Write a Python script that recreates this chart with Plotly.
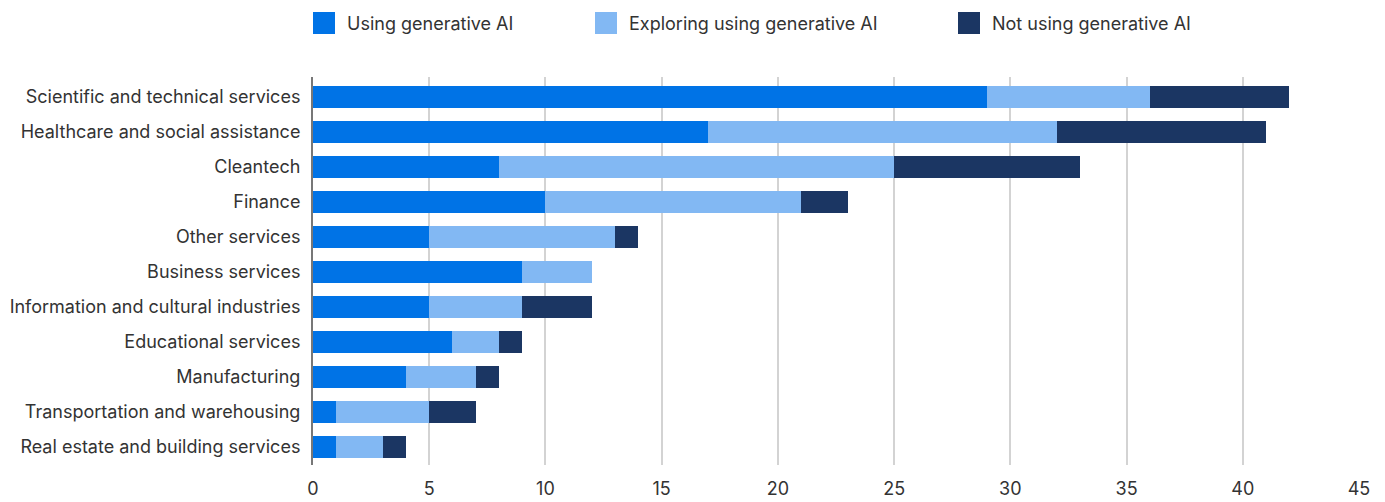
import plotly.graph_objects as go

# Industries, listed top to bottom
industries = [
    "Scientific and technical services",
    "Healthcare and social assistance",
    "Cleantech",
    "Finance",
    "Other services",
    "Business services",
    "Information and cultural industries",
    "Educational services",
    "Manufacturing",
    "Transportation and warehousing",
    "Real estate and building services",
]
using_ai = [29, 17, 8, 10, 5, 9, 5, 6, 4, 1, 1]
exploring_ai = [7, 15, 17, 11, 8, 3, 4, 2, 3, 4, 2]
not_using_ai = [6, 9, 8, 2, 1, 0, 3, 1, 1, 2, 1]

series_names = ["Using generative AI", "Exploring using generative AI", "Not using generative AI"]
series_colors = ["#0073E6", "#82B8F3", "#1B3663"]
x_ticks = [0, 5, 10, 15, 20, 25, 30, 35, 40, 45]

W, H = 1385, 502
L, R, T, B = 313, 26, 77, 37
plot_w, plot_h = W - L - R, H - T - B

FONT = "Inter, Liberation Sans, Arial, sans-serif"
FSIZE = 18
TEXT = "#333333"

fig = go.Figure()
for name, vals, col in zip(series_names, [using_ai, exploring_ai, not_using_ai], series_colors):
    fig.add_trace(go.Bar(
        y=industries, x=vals, name=name, orientation="h",
        marker=dict(color=col, line=dict(width=0)),
        showlegend=False, hoverinfo="x+y+name",
    ))

# Legend drawn as square swatches with labels above the plot
def px_x(p):
    return (p - L) / plot_w

def px_y(p):
    return (H - B - p) / plot_h

legend_x = [313, 595, 958]
shapes = []
annotations = []
for x0, name, col in zip(legend_x, series_names, series_colors):
    shapes.append(dict(type="rect", xref="paper", yref="paper",
                       x0=px_x(x0), x1=px_x(x0 + 22), y0=px_y(34), y1=px_y(12),
                       fillcolor=col, line=dict(width=0)))
    annotations.append(dict(xref="paper", yref="paper", x=px_x(x0 + 32), y=px_y(23),
                            text=name, showarrow=False, xanchor="left", yanchor="middle",
                            font=dict(family=FONT, size=FSIZE, color=TEXT)))

fig.update_layout(
    width=W, height=H,
    margin=dict(l=L, r=R, t=T, b=B, pad=0, autoexpand=False),
    barmode="stack", bargap=0.37,
    plot_bgcolor="white", paper_bgcolor="white",
    font=dict(family=FONT, size=FSIZE, color=TEXT),
    shapes=shapes, annotations=annotations,
    xaxis=dict(range=[0, 45], tickvals=x_ticks, showgrid=True, gridcolor="#D3D3D3",
               gridwidth=1.5, zeroline=False, showline=False, ticks="",
               automargin=False, ticklabelstandoff=11, tickfont=dict(size=FSIZE, color=TEXT)),
    yaxis=dict(categoryorder="array", categoryarray=industries[::-1],
               range=[-0.514, 10.571], autorange=False, automargin=False,
               showline=True, linecolor="#777777", linewidth=2, ticks="",
               showgrid=False, ticklabelstandoff=7, tickfont=dict(size=FSIZE, color=TEXT)),
)

fig.write_html("out.html")
